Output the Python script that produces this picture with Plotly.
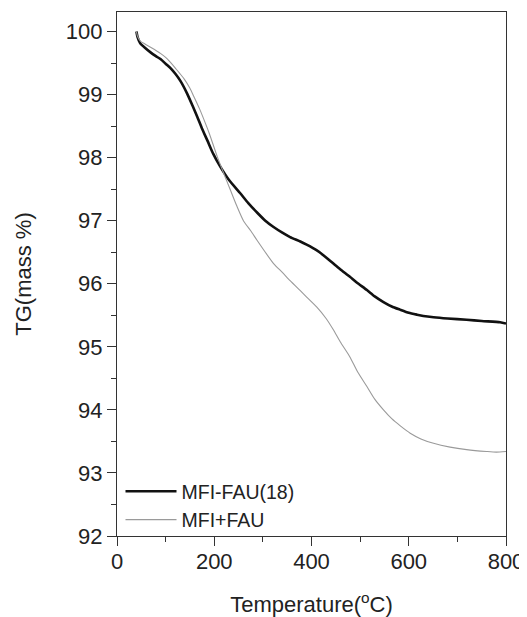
import plotly.graph_objects as go

# MFI-FAU(18) (black, thick)
temp_a = [40, 42, 48, 58, 69, 80, 90, 100, 110, 120, 131, 144, 155, 165, 175, 186, 198, 213,
          230, 253, 270, 288, 305, 322, 340, 356, 377, 390, 411, 425, 445, 459, 479, 493, 514,
          530, 548, 565, 582, 600, 617, 630, 651, 680, 719, 750, 788, 800]
tg_a = [100.0, 99.92, 99.81, 99.74, 99.67, 99.61, 99.56, 99.49, 99.42, 99.33, 99.21, 99.02, 98.83,
        98.65, 98.46, 98.27, 98.06, 97.85, 97.65, 97.44, 97.28, 97.13, 97.0, 96.9, 96.81, 96.74,
        96.67, 96.62, 96.53, 96.45, 96.32, 96.23, 96.11, 96.02, 95.9, 95.8, 95.71, 95.64, 95.59,
        95.54, 95.51, 95.49, 95.47, 95.45, 95.43, 95.41, 95.39, 95.37]

# MFI+FAU (gray, thin)
temp_b = [40, 42, 48, 58, 69, 80, 90, 100, 110, 120, 138, 150, 158, 170, 179, 190, 206, 220,
          233, 246, 260, 275, 288, 305, 322, 340, 356, 377, 390, 411, 430, 445, 459, 479, 495,
          514, 530, 548, 565, 582, 603, 625, 651, 685, 719, 760, 780, 800]
tg_b = [100.0, 99.93, 99.85, 99.8, 99.75, 99.7, 99.65, 99.59, 99.51, 99.42, 99.25, 99.1, 98.97,
        98.77, 98.6, 98.38, 98.02, 97.74, 97.49, 97.24, 97.0, 96.84, 96.69, 96.5, 96.32, 96.18,
        96.05, 95.89, 95.79, 95.63, 95.45, 95.27, 95.08, 94.84, 94.6, 94.37, 94.17, 94.0, 93.86,
        93.75, 93.63, 93.54, 93.47, 93.41, 93.37, 93.34, 93.33, 93.34]

x_ticks = [0, 200, 400, 600, 800]
y_ticks = [92, 93, 94, 95, 96, 97, 98, 99, 100]

FONT = "Liberation Sans, Arial, sans-serif"

fig = go.Figure()
fig.add_trace(go.Scatter(x=temp_a, y=tg_a, mode="lines", name="MFI-FAU(18)",
                         line=dict(color="#111111", width=2.6, shape="spline", smoothing=0.6)))
fig.add_trace(go.Scatter(x=temp_b, y=tg_b, mode="lines", name="MFI+FAU",
                         line=dict(color="#9a9a9a", width=1.1, shape="spline", smoothing=0.6)))

axis_common = dict(
    showgrid=False, zeroline=False, showline=True, linecolor="#333333", linewidth=1.4,
    mirror=True, ticks="outside", tickcolor="#333333", tickwidth=1.3, automargin=False,
    tickfont=dict(family=FONT, size=22, color="#222222"),
)

fig.update_xaxes(
    range=[0, 800], tickvals=x_ticks, ticklen=9, ticklabelstandoff=-4,
    minor=dict(dtick=100, ticklen=5, ticks="outside", tickcolor="#333333", tickwidth=1.3),
    title=dict(text="Temperature(<sup>o</sup>C)", font=dict(family=FONT, size=22, color="#222222"),
               standoff=34),
    **axis_common,
)
fig.update_yaxes(
    range=[92, 100.31], tickvals=y_ticks, ticklen=9, ticklabelstandoff=0,
    minor=dict(dtick=0.5, ticklen=5, ticks="outside", tickcolor="#333333", tickwidth=1.3),
    title=dict(text="TG(mass %)", font=dict(family=FONT, size=22, color="#222222"), standoff=27),
    **axis_common,
)

# the page body adds an 8 px offset, so the figure is 8 px smaller on each side
fig.update_layout(
    width=519, height=609,
    margin=dict(l=109, r=21, t=4, b=81, autoexpand=False),
    plot_bgcolor="white", paper_bgcolor="white",
    showlegend=True,
    legend=dict(x=0.009, y=-0.006, xanchor="left", yanchor="bottom",
                bgcolor="rgba(0,0,0,0)", borderwidth=0,
                font=dict(family=FONT, size=19.5, color="#222222"),
                itemwidth=51, tracegroupgap=0),
)

fig.write_html("out.html")
